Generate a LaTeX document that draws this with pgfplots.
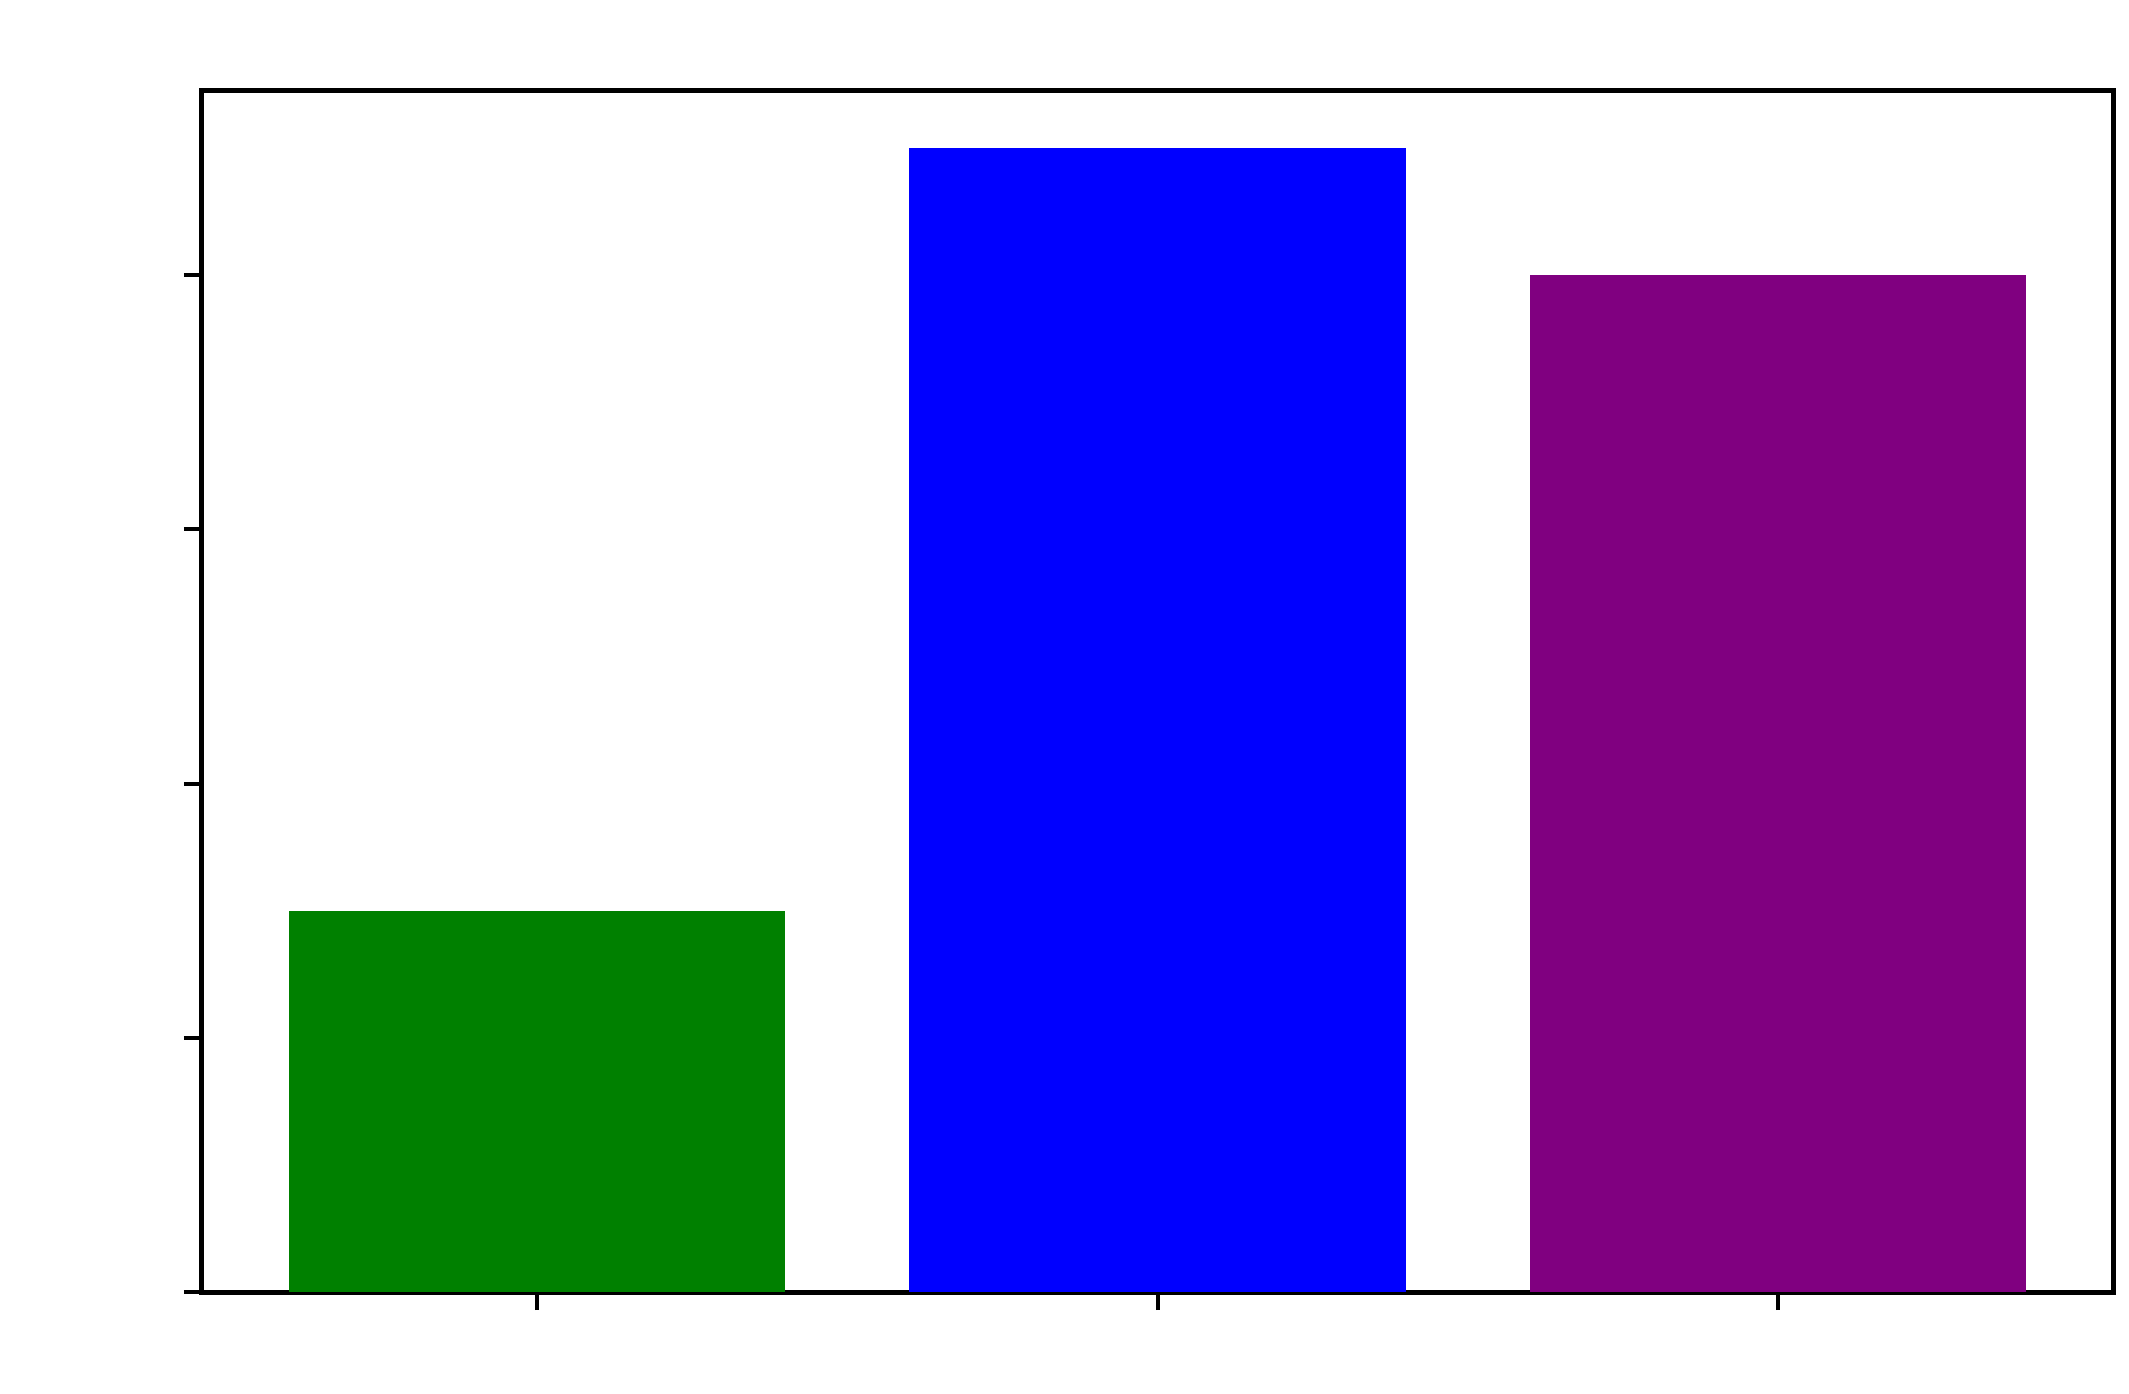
\documentclass[border=0pt]{standalone}
\usepackage{pgfplots}
\pgfplotsset{compat=1.18}
\definecolor{mplgreen}{RGB}{0,128,0}
\definecolor{mplblue}{RGB}{0,0,255}
\definecolor{mplpurple}{RGB}{128,0,128}
\begin{document}
\begin{tikzpicture}
\begin{axis}[
    at={(40.4pt,20.2pt)}, anchor=south west,
    scale only axis, width=382.2pt, height=240.2pt,
    xmin=-0.54, xmax=2.54, ymin=0, ymax=4.725,
    xtick={0,1,2}, ytick={0,1,2,3,4},
    xticklabels={}, yticklabels={},
    xtick pos=bottom, ytick pos=left,
    tick align=outside, major tick length=3.6pt,
    every tick/.style={black, line width=0.8pt},
    axis line style={black, line width=1pt},
]
\addplot[ybar, bar width=0.8, fill=mplgreen, draw=none] coordinates {(0,1.5)};
\addplot[ybar, bar width=0.8, fill=mplblue, draw=none] coordinates {(1,4.5)};
\addplot[ybar, bar width=0.8, fill=mplpurple, draw=none] coordinates {(2,4.0)};
\end{axis}
\pgfresetboundingbox
\path (0,0) rectangle (425.8pt,278.6pt);
\end{tikzpicture}
\end{document}
